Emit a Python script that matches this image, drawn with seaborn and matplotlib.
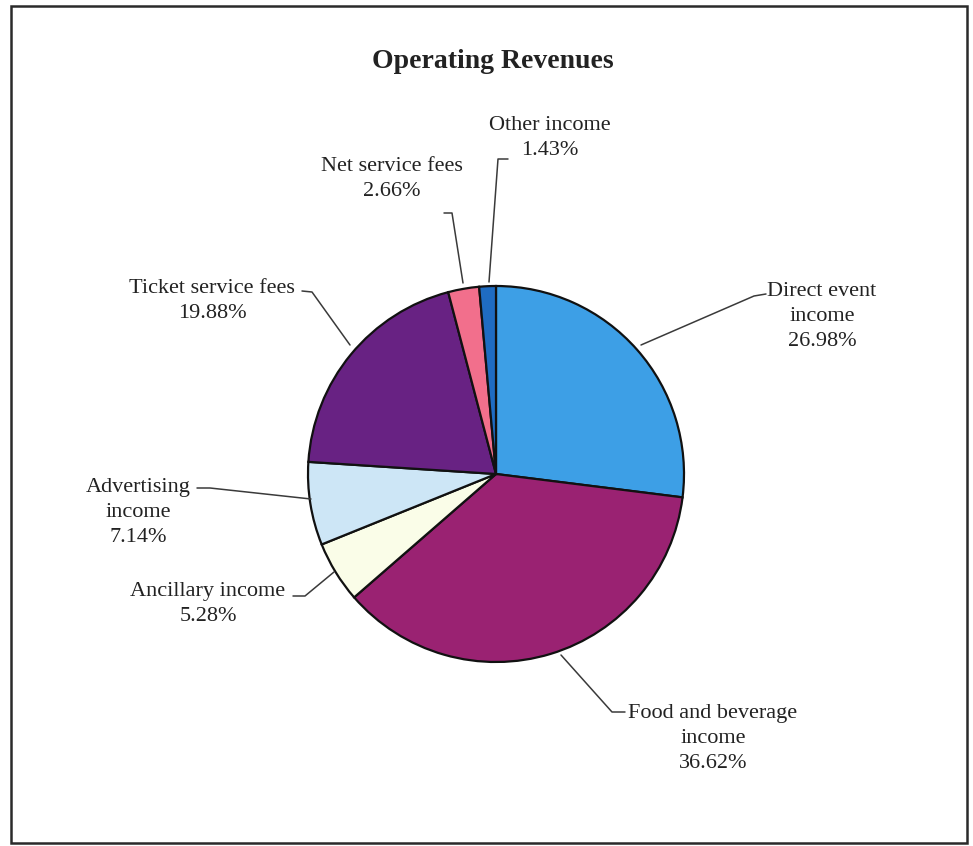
import matplotlib
matplotlib.use("Agg")
import matplotlib.pyplot as plt
import seaborn as sns
from matplotlib.patches import Rectangle

# --------------------------
# data
# --------------------------
categories = ["Direct event\nincome", "Food and beverage\nincome", "Ancillary income",
              "Advertising\nincome", "Ticket service fees", "Net service fees", "Other income"]
shares = [26.98, 36.62, 5.28, 7.14, 19.88, 2.66, 1.43]
colors = ["#3d9fe6", "#9a2272", "#fafde8", "#cde6f6", "#682283", "#f26f8c", "#1f6cc2"]

sns.set_theme(style="white")
plt.rcParams['font.family'] = ['Liberation Serif', 'DejaVu Serif']

W, H = 973, 846
fig = plt.figure(figsize=(W / 100, H / 100), dpi=100)
ax = fig.add_axes([0, 0, 1, 1])


def py(y):
    # image pixel row -> axes y
    return H - y


cx, cy, r = 496, 474, 188
wedges, _ = ax.pie(shares, colors=colors, startangle=90, counterclock=False,
                   center=(cx, py(cy)), radius=r, frame=True,
                   wedgeprops=dict(edgecolor="#111111", linewidth=1.6))
ax.set_xlim(0, W)
ax.set_ylim(0, H)
ax.set_aspect('equal')
ax.axis('off')

# outer frame
ax.add_patch(Rectangle((11, py(843)), 956, 837, fill=False, edgecolor="#2a2a2a", lw=1.8))

ax.text(493, py(61), "Operating Revenues", ha='center', va='center',
        fontsize=20, fontweight='bold', color="#222222")

# first-line centre of each label, then leader: text end -> pie edge
label_pos = [(822, 288), (713, 710), (208, 588), (138, 484), (212, 285), (392, 163), (550, 122)]
leaders = [
    [(766, 294), (754, 296), (641, 345)],
    [(625, 712), (612, 712), (561, 655)],
    [(293, 596), (305, 596), (334, 572)],
    [(197, 488), (210, 488), (311, 499)],
    [(302, 291), (312, 292), (350, 345)],
    [(444, 213), (452, 213), (463, 283)],
    [(508, 159), (498, 159), (489, 282)],
]

for name, val, (tx, ty), pts in zip(categories, shares, label_pos, leaders):
    ax.text(tx, py(ty - 6), f"{name}\n{val:.2f}%", ha='center', va='top',
            fontsize=16, color="#222222", linespacing=1.42)
    xs = [p[0] for p in pts]
    ys = [py(p[1]) for p in pts]
    ax.plot(xs, ys, color="#3a3a3a", lw=1.1)

fig.savefig("out.png", dpi=100, facecolor="white")
